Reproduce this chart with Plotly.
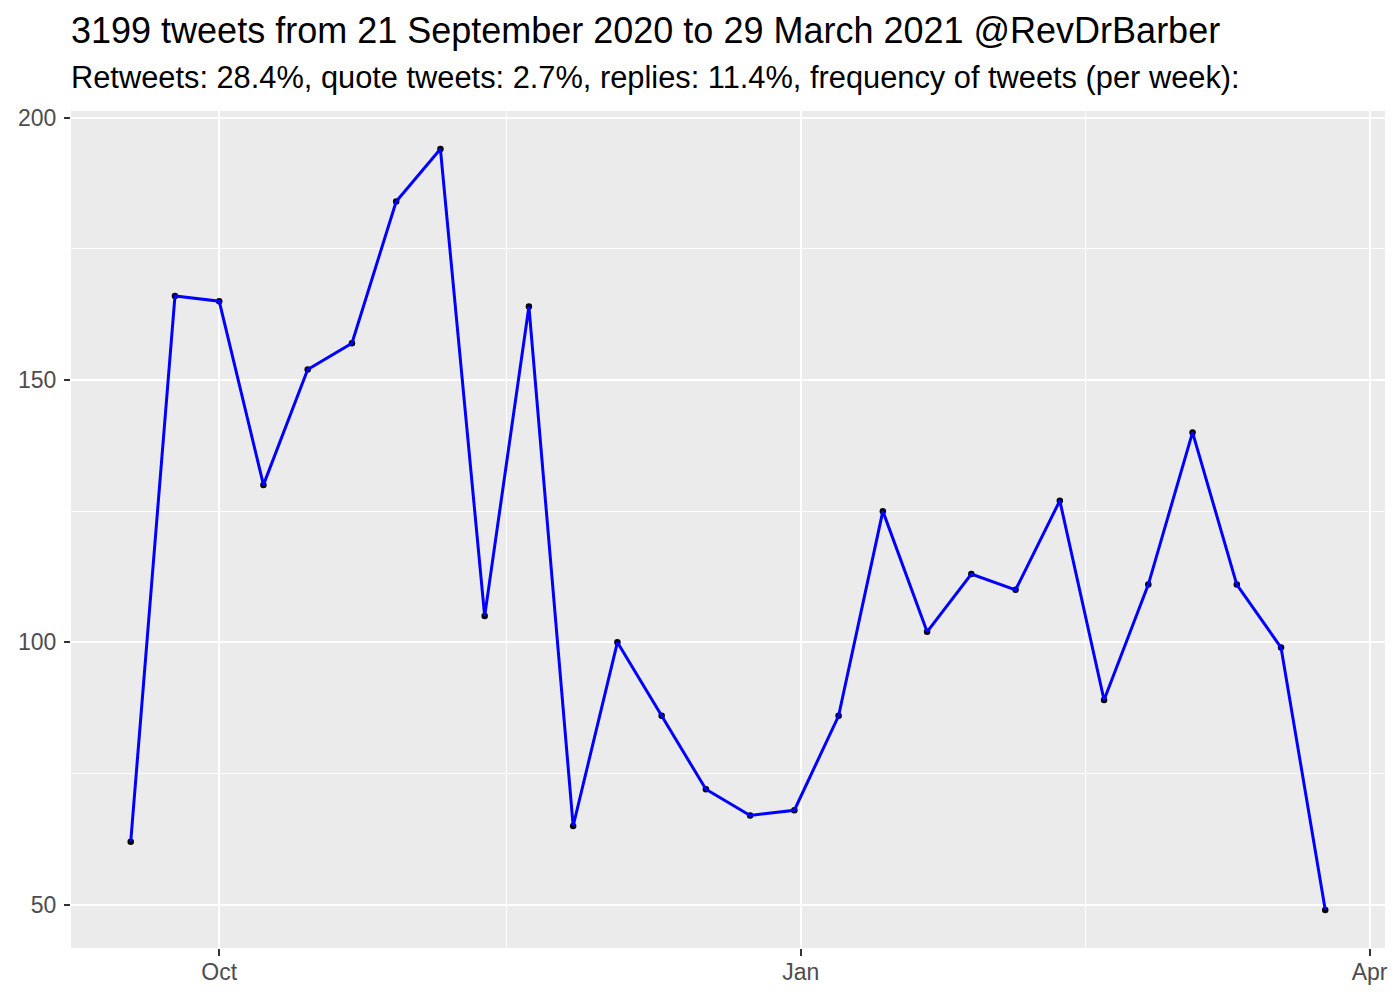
import plotly.graph_objects as go

# weekly tweet counts (week start dates)
weeks = [
    "2020-09-17", "2020-09-24", "2020-10-01", "2020-10-08", "2020-10-15",
    "2020-10-22", "2020-10-29", "2020-11-05", "2020-11-12", "2020-11-19",
    "2020-11-26", "2020-12-03", "2020-12-10", "2020-12-17", "2020-12-24",
    "2020-12-31", "2021-01-07", "2021-01-14", "2021-01-21", "2021-01-28",
    "2021-02-04", "2021-02-11", "2021-02-18", "2021-02-25", "2021-03-04",
    "2021-03-11", "2021-03-18", "2021-03-25",
]
tweets = [62, 166, 165, 130, 152, 157, 184, 194, 105, 164, 65, 100, 86, 72,
          67, 68, 86, 125, 102, 113, 110, 127, 89, 111, 140, 111, 99, 49]

x_ticks = ["2020-10-01", "2021-01-01", "2021-04-01"]
x_ticktext = ["Oct", "Jan", "Apr"]
x_minor = ["2020-11-15 12:00", "2021-02-15"]
y_ticks = [50, 100, 150, 200]
y_minor = [75, 125, 175]

title = "3199 tweets from 21 September 2020 to 29 March 2021 @RevDrBarber"
subtitle = ("Retweets: 28.4%, quote tweets: 2.7%, replies: 11.4%, "
            "frequency of tweets (per week):")

FONT = "Liberation Sans, Arial, Helvetica, sans-serif"

fig = go.Figure()
fig.add_trace(go.Scatter(
    x=weeks, y=tweets, mode="markers",
    marker=dict(size=6.5, color="black"),
    showlegend=False, hoverinfo="skip",
))
fig.add_trace(go.Scatter(
    x=weeks, y=tweets, mode="lines",
    line=dict(color="#0000FF", width=3),
    showlegend=False,
))

# page body has an 8px margin, so the figure is sized to fit the window
W, H = 1384, 984
ml, mt = 63, 103
plot_w, plot_h = 1314, 837
fig.update_layout(
    width=W, height=H,
    margin=dict(l=ml, r=W - ml - plot_w, t=mt, b=H - mt - plot_h, pad=0),
    paper_bgcolor="white", plot_bgcolor="#EBEBEB",
    font=dict(family=FONT, color="#4D4D4D", size=23),
    annotations=[
        dict(text=title, xref="paper", yref="paper", x=-2 / plot_w, y=1 + 81 / plot_h,
             xanchor="left", yanchor="middle", showarrow=False,
             font=dict(size=36, color="black", family=FONT)),
        dict(text=subtitle, xref="paper", yref="paper", x=-2 / plot_w, y=1 + 33 / plot_h,
             xanchor="left", yanchor="middle", showarrow=False,
             font=dict(size=30.8, color="black", family=FONT)),
    ],
)
fig.update_xaxes(
    type="date", automargin=False,
    range=["2020-09-07 13:12", "2021-04-03 10:48"],
    tickvals=x_ticks, ticktext=x_ticktext,
    ticks="outside", ticklen=7, tickwidth=1.5, tickcolor="#333333",
    ticklabelstandoff=-4,
    showgrid=True, gridcolor="white", gridwidth=2.2,
    minor=dict(tickvals=x_minor, showgrid=True, gridcolor="white", gridwidth=1.1, ticks=""),
    zeroline=False, showline=False,
)
fig.update_yaxes(
    automargin=False,
    range=[41.75, 201.25],
    tickvals=y_ticks,
    ticks="outside", ticklen=6, tickwidth=1.5, tickcolor="#333333",
    ticklabelstandoff=3,
    showgrid=True, gridcolor="white", gridwidth=2.2,
    minor=dict(tickvals=y_minor, showgrid=True, gridcolor="white", gridwidth=1.1, ticks=""),
    zeroline=False, showline=False,
)

fig.write_html("out.html")
